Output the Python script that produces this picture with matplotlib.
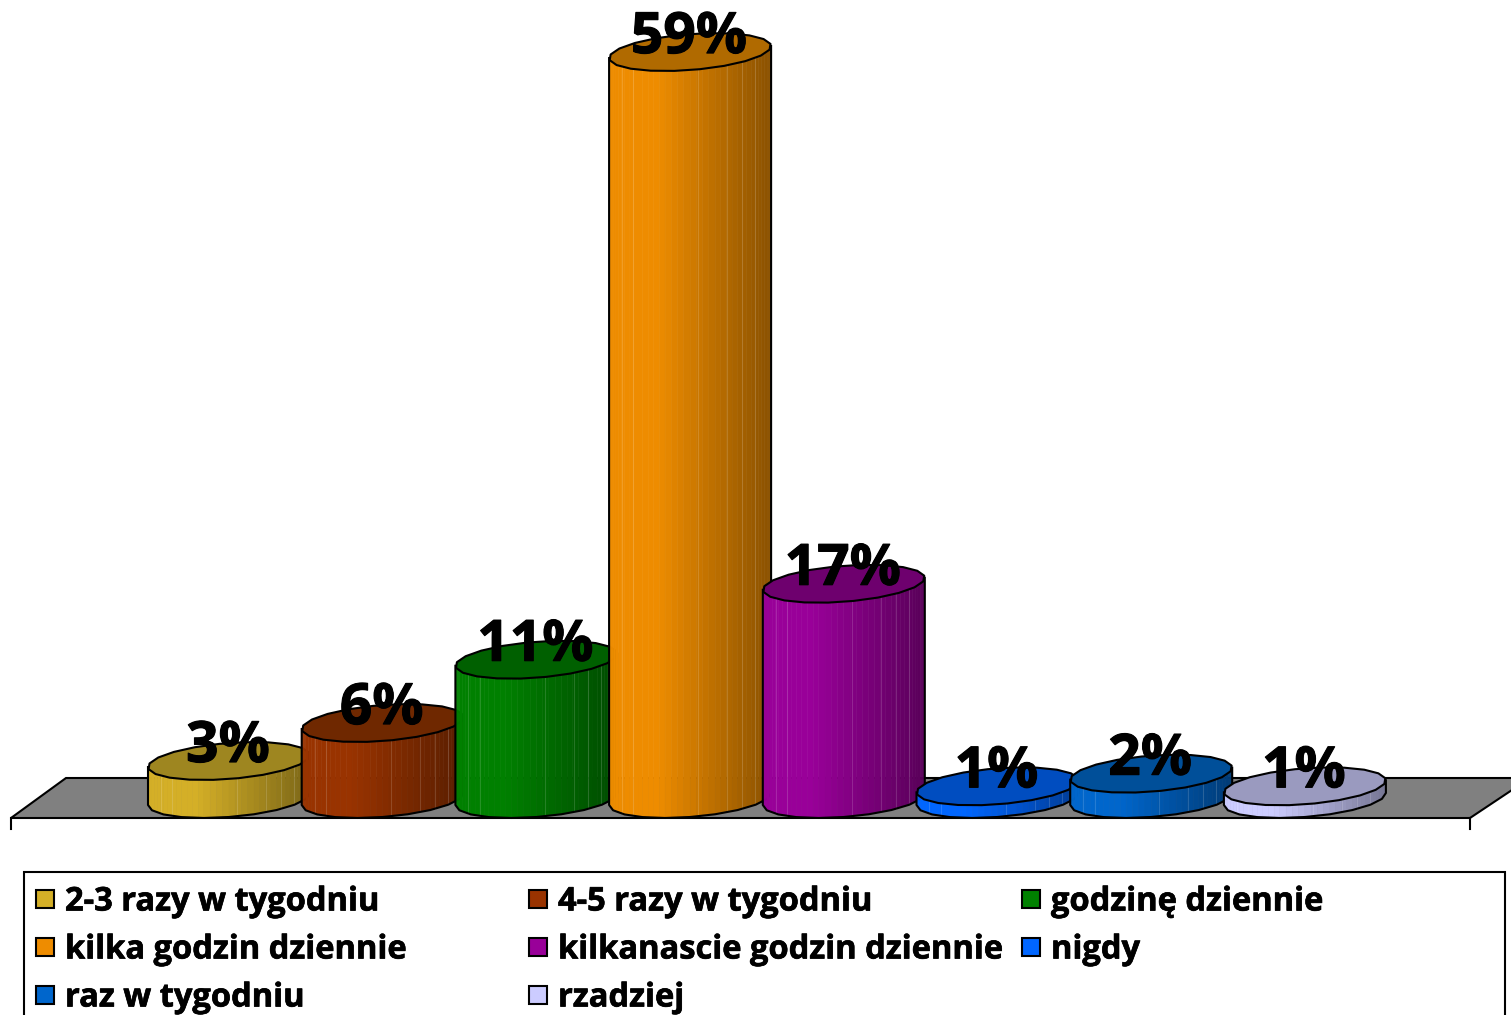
import numpy as np
import matplotlib
matplotlib.use("Agg")
import matplotlib.pyplot as plt
import matplotlib.patheffects as pe
from matplotlib.patches import Polygon, Rectangle
from matplotlib.colors import to_rgb

categories = ["2-3 razy w tygodniu", "4-5 razy w tygodniu", "godzinę dziennie",
              "kilka godzin dziennie", "kilkanascie godzin dziennie", "nigdy",
              "raz w tygodniu", "rzadziej"]
values = [3, 6, 11, 59, 17, 1, 2, 1]
colors = ["#D4AF27", "#993300", "#008000", "#EE8C00", "#990099", "#0066FF", "#0066CC", "#CCCCFF"]
top_colors = ["#9E8620", "#6F2800", "#006000", "#B06A00", "#6E006E", "#004DC0", "#004F99", "#9A9ABF"]
streaks = [0.08, 0.15, 0.55, 0.73, 0.82, 0.90]

W, H = 1511, 1015
PX_PER_CAT = 153.7
PX_PER_PCT = 12.66
X0_PX, Y0_PX = 229.0, 818.0
FONT = "Open Sans"

fig = plt.figure(figsize=(W / 100, H / 100), dpi=100)
fig.patch.set_facecolor("white")

# Pixel-space layer: floor and legend
bg = fig.add_axes([0, 0, 1, 1], zorder=0)
bg.set_xlim(0, W)
bg.set_ylim(H, 0)
bg.axis("off")
LW = 1.5
bg.add_patch(Polygon([(11, 818), (66, 778), (1530, 778), (1470, 818)], closed=True,
                     facecolor="#808080", edgecolor="black", lw=LW))
bg.plot([11, 11], [818, 829], color="black", lw=LW)
bg.plot([1470, 1470], [818, 829], color="black", lw=LW)

bg.add_patch(Rectangle((24, 872), 1481, 170, facecolor="white", edgecolor="black", lw=LW))
col_x = [36, 529, 1022]
row_y = [899, 947, 995]
for i, name in enumerate(categories):
    x, y = col_x[i % 3], row_y[i // 3]
    bg.add_patch(Rectangle((x, y - 9), 18, 18, facecolor=colors[i], edgecolor="black", lw=LW))
    t = bg.text(x + 29, y - 1, name, fontsize=23.5, fontweight="bold", family=FONT,
                va="center_baseline", ha="left", color="black")
    t.set_path_effects([pe.withStroke(linewidth=0.5, foreground="black")])

# Chart layer: data coordinates (category index, percent)
ax = fig.add_axes([0, 0, 1, 1], zorder=1)
ax.patch.set_alpha(0)
ax.set_xlim(-X0_PX / PX_PER_CAT, (W - X0_PX) / PX_PER_CAT)
ax.set_ylim((Y0_PX - H) / PX_PER_PCT, Y0_PX / PX_PER_PCT)
ax.axis("off")

rx = 81 / PX_PER_CAT
tilt = 6 / PX_PER_PCT
ry = 18 / PX_PER_PCT
base = 19 / PX_PER_PCT
N = 20
SUB = 4


def ring(cx, cy, t):
    return cx + rx * np.cos(t), cy + tilt * np.cos(t) + ry * np.sin(t)


def shade(frac):
    return 1.0 if frac < 0.3 else 1.0 - 0.42 * (frac - 0.3) / 0.7


for i, v in enumerate(values):
    z = 2 + i
    c = np.array(to_rgb(colors[i]))
    tb = np.linspace(np.pi, 2 * np.pi, N // 2 + 1)
    xb, yb = ring(i, base, tb)
    xt, yt = ring(i, base + v, tb)
    sb = np.linspace(0, len(tb) - 1, (len(tb) - 1) * SUB + 1)
    idx = np.arange(len(tb))
    xbs, ybs = np.interp(sb, idx, xb), np.interp(sb, idx, yb)
    xts, yts = np.interp(sb, idx, xt), np.interp(sb, idx, yt)
    for k in range(len(sb) - 1):
        frac = (xbs[k] + xbs[k + 1] - 2 * (i - rx)) / (4 * rx)
        col = tuple(c * shade(frac))
        ax.add_patch(Polygon([(xbs[k], ybs[k]), (xbs[k + 1], ybs[k + 1]),
                              (xts[k + 1], yts[k + 1]), (xts[k], yts[k])], closed=True,
                             facecolor=col, edgecolor=col, lw=0.4, zorder=z))
    for s in streaks:
        xs = i - rx + 2 * rx * s
        ax.plot([xs, xs], [np.interp(xs, xbs, ybs), np.interp(xs, xts, yts)],
                color="white", alpha=0.15, lw=0.8, zorder=z)
    # silhouette
    ax.plot(np.r_[xt[0], xb, xt[-1]], np.r_[yt[0], yb, yt[-1]], color="black", lw=LW,
            zorder=z, solid_joinstyle="round")
    # top cap
    tt = np.linspace(0, 2 * np.pi, N + 1) + 0.12
    xc, yc = ring(i, base + v, tt)
    ax.add_patch(Polygon(np.c_[xc, yc], closed=True, facecolor=top_colors[i], edgecolor="black",
                         lw=LW, zorder=z, joinstyle="round"))

for i, v in enumerate(values):
    t = ax.text(i - 1 / PX_PER_CAT, v + 2 * base - 5 / PX_PER_PCT, f"{v}%", ha="center", va="center",
                fontsize=41, fontweight="bold", family=FONT, color="black", zorder=50)
    t.set_path_effects([pe.withStroke(linewidth=0.8, foreground="black")])

fig.savefig("out.png", dpi=100)
